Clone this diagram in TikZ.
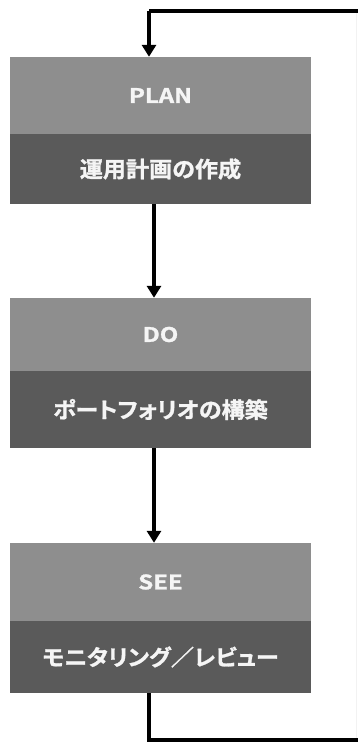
\documentclass[tikz,border=0pt]{standalone}
\usepackage{fontspec}
\setmainfont{Liberation Sans}
\newfontfamily\jpfont{Noto Sans CJK JP}[BoldFont={Noto Sans CJK JP Bold},BoldFeatures={FakeBold=1.2},RawFeature=+palt]
\usetikzlibrary{arrows.meta}
\definecolor{topgray}{RGB}{142,142,142}
\definecolor{botgray}{RGB}{90,90,90}
\definecolor{txtwhite}{RGB}{245,245,245}
\tikzset{
  headbox/.style={rectangle, fill=topgray, draw=none, inner sep=0pt,
    minimum width=301pt, text=txtwhite},
  taskbox/.style={rectangle, fill=botgray, draw=none, inner sep=0pt,
    minimum width=301pt, text=txtwhite},
  flow/.style={line width=3.3pt, draw=black, -{Triangle[width=14pt,length=12pt]}},
  loopline/.style={line width=3.3pt, draw=black},
  edgeline/.style={line width=0.8pt, draw=black!5}
}
\newcommand{\headtxt}[1]{\scalebox{1.2}[1]{\jpfont\bfseries\fontsize{20}{24}\selectfont #1}}
\newcommand{\tasktxt}[1]{\scalebox{1.05}[1]{\jpfont\bfseries\fontsize{22}{26}\selectfont #1}}
\begin{document}
\begin{tikzpicture}[x=1pt,y=1pt]
\useasboundingbox (0,0) rectangle (357,-742);
% PLAN
\node[headbox, minimum height=77pt] (planh) at (160.5,-95.5) {\headtxt{PLAN}};
\node[taskbox, minimum height=70pt] (plant) at (160.5,-169) {\tasktxt{運用計画の作成}};
% DO
\node[headbox, minimum height=73pt] (doh) at (160.5,-334.5) {\headtxt{DO}};
\node[taskbox, minimum height=77pt] (dot) at (160.5,-409.5) {\tasktxt{ポートフォリオの構築}};
% SEE
\node[headbox, minimum height=78pt] (seeh) at (160.5,-582) {\headtxt{SEE}};
\node[taskbox, minimum height=72pt] (seet) at (160.5,-657) {\tasktxt{モニタリング／レビュー}};
% loop coordinates
\coordinate (tl) at (149,-11);
\coordinate (tr) at (358,-11);
\coordinate (bl) at (149,-740);
\coordinate (br) at (358,-740);
\coordinate (rt) at (356,-11);
\coordinate (rb) at (356,-740);
% connectors
\draw[edgeline] (rt) -- (rb);
\draw[loopline] (tr) -- (tl);
\draw[flow] (tl) -- (tl |- planh.north);
\draw[flow] (plant.south -| 154,0) -- (doh.north -| 154,0);
\draw[flow] (dot.south -| 154,0) -- (seeh.north -| 154,0);
\draw[loopline] (seet.south -| bl) -- (bl) -- (br);
\end{tikzpicture}
\end{document}
